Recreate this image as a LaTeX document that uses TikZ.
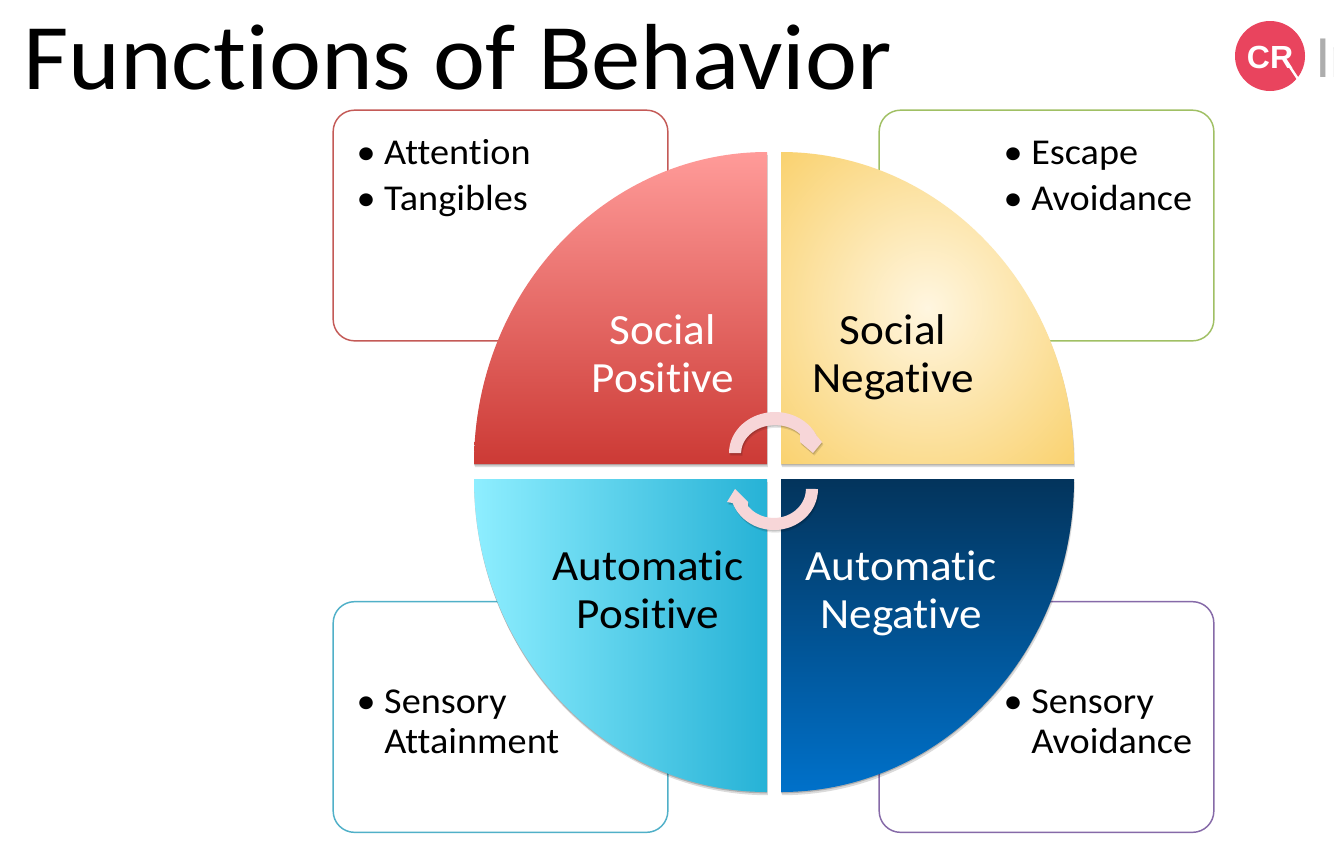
\documentclass[tikz,border=0pt]{standalone}
\usepackage{fontspec}
\setmainfont[RawFeature=-liga,FakeStretch=1.05]{Carlito}
\newfontfamily\LogoFont{Liberation Sans}
\usetikzlibrary{shadows}
\definecolor{ColBoxA}{RGB}{196,90,87}
\definecolor{ColBoxB}{RGB}{160,192,100}
\definecolor{ColBoxC}{RGB}{80,176,200}
\definecolor{ColBoxD}{RGB}{134,106,168}
\definecolor{ColArrow}{RGB}{247,214,216}
\definecolor{ColLogo}{RGB}{233,68,94}
\definecolor{ColGlowA}{RGB}{255,246,224}
\definecolor{ColGlowB}{RGB}{249,208,106}
\pgfdeclareradialshading{SoftGlow}{\pgfpointorigin}{color(0bp)=(ColGlowA);color(37bp)=(ColGlowB);color(100bp)=(ColGlowB)}
\tikzstyle{BoxItem}=[draw,fill=white,rounded corners=16pt,inner sep=0pt,minimum width=251pt,
minimum height=173pt,line width=1.1pt]
\tikzstyle{ItemText}=[anchor=base west,inner sep=0pt,font=\fontsize{27.3}{30}\selectfont]
\tikzstyle{QuadText}=[anchor=base,inner sep=0pt,font=\fontsize{32.3}{36}\selectfont]
\tikzstyle{QuadShadow}=[drop shadow={shadow xshift=0pt,shadow yshift=-1pt,opacity=.2,fill=black},
drop shadow={shadow xshift=.6pt,shadow yshift=-2.4pt,opacity=.14,fill=black}]
\tikzstyle{TurnArrow}=[fill=ColArrow,drop shadow={shadow xshift=.5pt,shadow yshift=-1pt,opacity=.14,fill=black},
drop shadow={shadow xshift=1pt,shadow yshift=-2pt,opacity=.1,fill=black}]
\newcommand{\BulletItem}[1]{\llap{\textbullet\hspace{6.5pt}}#1}
\begin{document}
\begin{tikzpicture}[x=.75pt,y=-.75pt]
        \clip(0,0)rectangle(1334,864);
        \fill[white](0,0)rectangle(1334,864);
        \node[anchor=base west,inner sep=0pt,font=\fontsize{70.4}{72}\selectfont](title)at(23,89){Functions of Behavior};
        \node[circle,fill=ColLogo,minimum size=52.5pt,inner sep=0pt](logo)at(1270,56){};
        \node[text=white,inner sep=0pt,font=\LogoFont\bfseries\fontsize{24}{24}\selectfont](logotext)at(1270,57){CR};
        \draw[white,line width=1.8pt](1284,58)--(1298,79);
        \node[anchor=base west,inner sep=0pt,text=black!32,font=\LogoFont\fontsize{42}{42}\selectfont](logoname)at(1315,77){In};
        \node[BoxItem,draw=ColBoxA](boxa)at(500.5,225.5){};
        \node[BoxItem,draw=ColBoxB](boxb)at(1046.5,225.5){};
        \node[BoxItem,draw=ColBoxC](boxc)at(500.5,717){};
        \node[BoxItem,draw=ColBoxD](boxd)at(1046.5,717){};
        \shade[QuadShadow,top color={rgb,255:red,255;green,155;blue,153},bottom color={rgb,255:red,204;green,58;blue,53}]
            (767,464)--(474,464)arc[start angle=180,end angle=270,x radius=293,y radius=312]--cycle;
        \shade[QuadShadow,shading=SoftGlow]
            (781,464)--(781,152)arc[start angle=270,end angle=360,x radius=293,y radius=312]--cycle;
        \shade[QuadShadow,left color={rgb,255:red,142;green,238;blue,255},right color={rgb,255:red,38;green,178;blue,214}]
            (767,479)--(767,792)arc[start angle=90,end angle=180,x radius=293,y radius=313]--cycle;
        \shade[QuadShadow,top color={rgb,255:red,3;green,52;blue,92},bottom color={rgb,255:red,0;green,113;blue,202}]
            (781,479)--(1074,479)arc[start angle=0,end angle=90,x radius=293,y radius=313]--cycle;
        \path[TurnArrow](729,453)arc[start angle=180,end angle=335,x radius=46,y radius=41]
            --(822,442)--(813,453)--(800,442)--(800,434)arc[start angle=317,end angle=180,x radius=34,y radius=28]--cycle;
        \path[TurnArrow](818,489)arc[start angle=0,end angle=160,x radius=44,y radius=41]
            --(727,502)--(735,489)--(748,502)--(748,506)arc[start angle=144,end angle=0,x radius=32,y radius=29]--cycle;
        \node[ItemText](attn)at(384,164){\BulletItem{Attention}};
        \node[ItemText](tang)at(384,210){\BulletItem{Tangibles}};
        \node[ItemText](esc)at(1031,164){\BulletItem{Escape}};
        \node[ItemText](avoid)at(1031,210){\BulletItem{Avoidance}};
        \node[ItemText](sensa)at(384,713){\BulletItem{Sensory}};
        \node[ItemText](attain)at(384,753){Attainment};
        \node[ItemText](sensb)at(1031,713){\BulletItem{Sensory}};
        \node[ItemText](avoidb)at(1031,753){Avoidance};
        \node[QuadText,text=white](socpa)at(663,344){Social};
        \node[QuadText,text=white](socpb)at(663,392){Positive};
        \node[QuadText](socna)at(893,344){Social};
        \node[QuadText](socnb)at(893,392){Negative};
        \node[QuadText](autpa)at(648,580){Automatic};
        \node[QuadText](autpb)at(648,628){Positive};
        \node[QuadText,text=white](autna)at(901,580){Automatic};
        \node[QuadText,text=white](autnb)at(901,628){Negative};
    \end{tikzpicture}
\end{document}
